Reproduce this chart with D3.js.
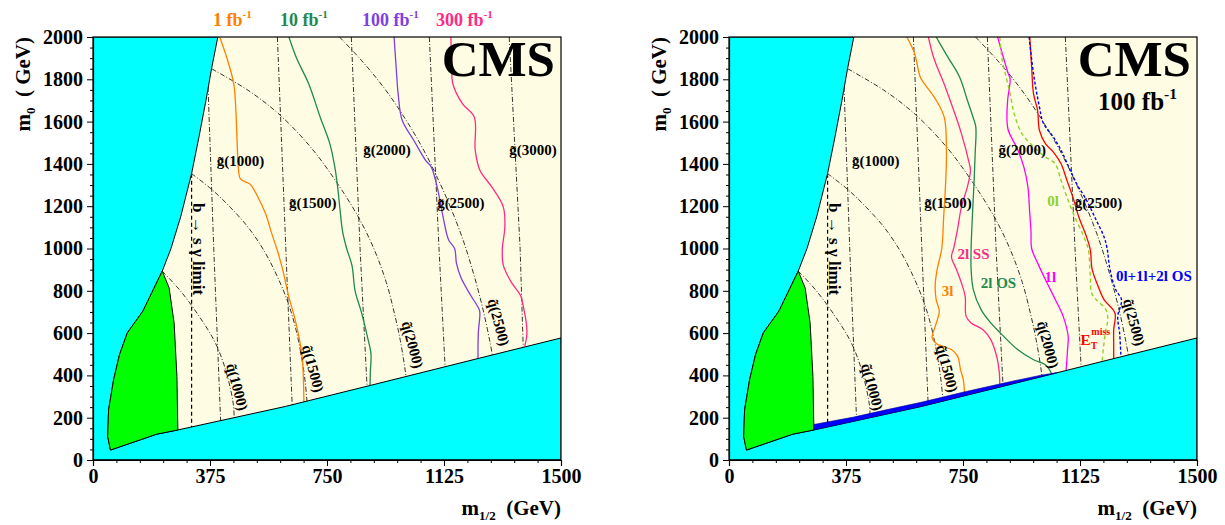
<!DOCTYPE html>
<html><head><meta charset="utf-8">
<script src="https://cdn.jsdelivr.net/npm/d3@7"></script>
<style>
body{margin:0;background:#fff}
svg{display:block}
text{font-family:"Liberation Serif","Times New Roman",serif;font-weight:bold;white-space:pre}
</style>
</head><body>
<svg id="chart" width="1225" height="525"></svg>
<script>
// ---------------- data (GeV) ----------------
const xTicks = [0, 375, 750, 1125, 1500];
const yTicks = [0, 200, 400, 600, 800, 1000, 1200, 1400, 1600, 1800, 2000];

// excluded-region boundaries
const cyanEdge   = [[222,893],[250,1000],[281,1150],[316,1354],[340,1530],[362,1700],[380,1850],[400,2000]];
const greenLeft  = [[56,47],[47,111],[50,237],[66,379],[85,498],[110,601],[160,704],[222,893]];
const greenRight = [[222,893],[244,814],[260,648],[269,395],[272,142]];
const bottomEdge = [[56,47],[204,122],[272,142],[616,253],[890,353],[1240,482],[1500,577]];
const bsgLine    = [[316,1354],[316,150]];

// iso-mass gluino contours
const gl1000 = [[363,2000],[387,1000],[410,150]];
const gl1500 = [[591,2000],[618,1000],[640,200]];
const gl2000 = [[828,2000],[856,1000],[880,300]];
const gl2500 = [[1078,2000],[1109,1000],[1130,400]];
const gl3000 = [[1334,2000],[1369,1000],[1380,480]];
const gluinoNames = ["1000","1500","2000","2500","3000"];

// iso-mass squark contours
const sq1000 = [[222,893],[280,800],[340,680],[390,560],[420,450],[440,340],[450,260],[453,180]];
const sq1500 = [[316,1354],[380,1280],[440,1195],[500,1095],[550,985],[590,870],[625,745],[650,620],[668,490],[680,370],[688,240]];
const sq2000 = [[380,1850],[500,1745],[600,1630],[700,1475],[780,1315],[850,1150],[900,1000],[940,840],[965,700],[985,565],[1000,430],[1006,360]];
const sq2500 = [[790,2000],[860,1890],[930,1765],[1000,1615],[1060,1465],[1110,1315],[1150,1180],[1185,1045],[1210,930],[1235,800],[1255,680],[1272,560],[1282,480]];
const squarkNames = ["1000","1500","2000","2500"];

// left panel: 5 sigma reach for integrated luminosities
const lumiNames = ["1 fb","10 fb","100 fb","300 fb"];
const reach1   = [[406,2000],[428,1906],[451,1780],[458,1650],[462,1500],[466,1380],[472,1330],[488,1315],[503,1305],[528,1245],[553,1165],[572,1075],[590,995],[608,900],[628,770],[645,680],[659,590],[670,495],[674,400],[676,269]];
const reach10  = [[628,2000],[653,1898],[691,1780],[728,1622],[759,1496],[775,1386],[784,1291],[792,1180],[800,1080],[813,1000],[830,920],[840,800],[860,700],[880,580],[891,500],[889,420],[888,352]];
const reach100 = [[965,2000],[972,1850],[978,1732],[991,1606],[1028,1512],[1066,1417],[1084,1386],[1103,1291],[1122,1150],[1140,1040],[1159,1000],[1165,930],[1180,860],[1210,780],[1238,711],[1240,690],[1235,600],[1234,482]];
const reach300 = [[1147,2000],[1150,1860],[1153,1780],[1184,1685],[1222,1622],[1225,1465],[1240,1370],[1278,1291],[1315,1197],[1320,1100],[1312,1000],[1315,921],[1340,842],[1371,775],[1380,720],[1390,632],[1390,585],[1384,538]];

// right panel: 100 fb-1 reach per channel
const ch3l    = [[570,2000],[595,1921],[613,1811],[626,1780],[664,1701],[690,1620],[697,1465],[694,1300],[688,1150],[682,1000],[667,900],[661,830],[664,758],[674,703],[661,632],[651,577],[665,550],[690,535],[714,521],[733,490],[742,427],[751,379],[755,310]];
const ch2lSS  = [[639,2000],[657,1898],[689,1780],[720,1654],[745,1543],[770,1402],[774,1370],[764,1291],[745,1197],[732,1087],[720,1000],[713,960],[729,901],[745,837],[757,774],[760,679],[776,648],[814,616],[839,569],[858,490],[866,420],[868,352]];
const ch2lOS  = [[664,2000],[701,1906],[739,1811],[764,1701],[782,1622],[791,1575],[789,1450],[785,1300],[780,1150],[776,1000],[776,900],[783,806],[808,711],[839,648],[870,600],[926,521],[976,474],[1014,450],[1033,411]];
const ch1l    = [[861,2000],[876,1921],[895,1827],[901,1803],[893,1700],[891,1606],[895,1559],[926,1465],[945,1386],[958,1291],[964,1165],[968,1080],[970,1000],[989,932],[1014,853],[1046,758],[1071,679],[1087,585],[1085,520],[1083,474],[1080,420]];
const ch0l    = [[868,2000],[876,1890],[890,1800],[901,1732],[914,1638],[939,1543],[977,1480],[1014,1433],[1045,1402],[1064,1323],[1083,1244],[1108,1150],[1133,1071],[1147,1020],[1152,995],[1158,869],[1162,790],[1177,758],[1208,711],[1214,664],[1208,616],[1202,553],[1196,470]];
const chMET   = [[964,2000],[970,1858],[976,1732],[989,1654],[995,1559],[1014,1496],[1039,1457],[1064,1402],[1083,1323],[1102,1244],[1121,1150],[1146,1055],[1158,995],[1164,901],[1183,822],[1202,758],[1237,695],[1233,616],[1233,537],[1233,482]];
const chComb  = [[962,2000],[976,1827],[995,1669],[1008,1591],[1039,1528],[1064,1465],[1089,1386],[1114,1307],[1146,1228],[1177,1134],[1202,1055],[1212,1000],[1221,901],[1239,806],[1258,758],[1246,679],[1252,600],[1256,498]];
const blueBandTop = [[272,168],[400,203],[500,236],[616,273],[760,324],[900,370],[1000,401],[1050,413]];
const blueBandBottom = [[1050,412],[890,353],[616,253],[272,142]];

// annotation anchors (GeV)
const gluinoLabelLeft  = [[397,1388],[628,1190],[866,1440],[1103,1190],[1334,1440]];
const gluinoLabelRight = [[394,1388],[626,1190],[864,1443],[1108,1190]];
const squarkLabelLeft  = [[462,345],[705,432],[1024,545],[1300,651]];
const squarkLabelRight = [[459,345],[699,432],[1022,545],[1298,651]];

// ---------------- drawing ----------------
const svg = d3.select("#chart");
const W = 468, TOP = 37, BOT = 460;
const serif = '"Liberation Serif","Times New Roman",serif';

function panel(x0, opts) {
  const x = d3.scaleLinear().domain([0,1500]).range([x0, x0+W]);
  const y = d3.scaleLinear().domain([0,2000]).range([BOT, TOP]);
  const g = svg.append("g");
  const line = d3.line().x(d=>x(d[0])).y(d=>y(d[1]));
  const smooth = d3.line().x(d=>x(d[0])).y(d=>y(d[1])).curve(d3.curveCatmullRom.alpha(0.5));
  const clipId = "clip" + x0;
  svg.append("clipPath").attr("id", clipId).append("rect")
    .attr("x", x(0)).attr("y", y(2000)).attr("width", W).attr("height", BOT-TOP);
  const body = g.append("g").attr("clip-path", `url(#${clipId})`);

  body.append("rect").attr("x", x(0)).attr("y", y(2000)).attr("width", W).attr("height", BOT-TOP)
    .attr("fill", "#fefde4");

  // iso-mass contours
  const gls = opts.withG3000 ? [gl1000,gl1500,gl2000,gl2500,gl3000] : [gl1000,gl1500,gl2000,gl2500];
  gls.forEach(d => body.append("path").attr("d", line(d)).attr("fill","none")
    .attr("stroke","#000").attr("stroke-width",0.8).attr("stroke-dasharray","5,2,1,2"));
  [sq1000,sq1500,sq2000,sq2500].forEach(d => body.append("path").attr("d", smooth(d)).attr("fill","none")
    .attr("stroke","#000").attr("stroke-width",0.8).attr("stroke-dasharray","5,2,1,2"));
  body.append("path").attr("d", line(bsgLine)).attr("fill","none")
    .attr("stroke","#000").attr("stroke-width",1.2).attr("stroke-dasharray","4,3");

  // reach curves
  opts.curves.forEach(c => body.append("path").attr("d", smooth(c.data)).attr("fill","none")
    .attr("stroke", c.color).attr("stroke-width", c.w || 1.3)
    .attr("stroke-dasharray", c.dash || null));

  // excluded regions
  const cyanPoly = [[0,0],[1500,0], ...bottomEdge.slice().reverse(), ...greenLeft.slice(1), ...cyanEdge.slice(1), [0,2000]];
  body.append("path").attr("d", line(cyanPoly) + "Z").attr("fill","#00ffff")
    .attr("stroke","#000").attr("stroke-width",1);
  const greenPoly = [...greenLeft, ...greenRight.slice(1), [204,122]];
  body.append("path").attr("d", line(greenPoly) + "Z").attr("fill","#00ff00")
    .attr("stroke","#000").attr("stroke-width",1);
  if (opts.band) {
    body.append("path").attr("d", line([...blueBandTop, ...blueBandBottom]) + "Z")
      .attr("fill","#0000ff").attr("stroke","#00008b").attr("stroke-width",0.6);
  }

  // frame
  g.append("rect").attr("x", x(0)).attr("y", y(2000)).attr("width", W).attr("height", BOT-TOP)
    .attr("fill","none").attr("stroke","#000").attr("stroke-width",1.2);

  // axes
  const minorX = d3.range(0, 1501, 75).filter(v => xTicks.indexOf(v) < 0);
  const minorY = d3.range(0, 2001, 50).filter(v => yTicks.indexOf(v) < 0);
  const ax = g.append("g").attr("transform", `translate(0,${BOT})`)
    .call(d3.axisBottom(x).tickValues(xTicks).tickSize(6).tickPadding(3).tickFormat(d3.format("d")));
  g.append("g").attr("transform", `translate(0,${BOT})`)
    .call(d3.axisBottom(x).tickValues(minorX).tickSize(3).tickFormat(""))
    .select(".domain").remove();
  const ay = g.append("g").attr("transform", `translate(${x(0)},0)`)
    .call(d3.axisLeft(y).tickValues(yTicks).tickSize(6).tickPadding(4).tickFormat(d3.format("d")));
  g.append("g").attr("transform", `translate(${x(0)},0)`)
    .call(d3.axisLeft(y).tickValues(minorY).tickSize(3).tickFormat(""))
    .select(".domain").remove();
  [ax, ay].forEach(a => a.selectAll("text").attr("font-family", serif).attr("font-weight","bold")
    .attr("font-size", 20).attr("fill","#000"));
  g.selectAll(".domain").attr("stroke","#000").attr("stroke-width",1.2);
  g.selectAll(".tick line").attr("stroke","#000");

  // axis titles
  const yl = g.append("text").attr("transform", `translate(${x0-63},${TOP}) rotate(-90)`)
    .attr("text-anchor","end").attr("font-size",21);
  yl.append("tspan").text("m");
  yl.append("tspan").attr("dy",5).attr("font-size",13).text("0");
  yl.append("tspan").attr("dy",-5).text("  ( GeV)");
  const xl = g.append("text").attr("x", x(1500)).attr("y", 515).attr("text-anchor","end").attr("font-size",21);
  xl.append("tspan").text("m");
  xl.append("tspan").attr("dy",5).attr("font-size",13).text("1/2");
  xl.append("tspan").attr("dy",-5).text("  (GeV)");

  // b -> s gamma label
  g.append("text").attr("transform", `translate(${x(322)},${y(1215)}) rotate(90)`)
    .attr("font-size",17).text("b \u2192 s \u03b3 limit");

  // gluino / squark labels
  opts.gLabels.forEach((p,i) => g.append("text").attr("x", x(p[0])).attr("y", y(p[1]))
    .attr("font-size",15).text("g\u0303(" + gluinoNames[i] + ")"));
  opts.qLabels.forEach((p,i) => g.append("text")
    .attr("transform", `translate(${x(p[0])},${y(p[1])}) rotate(75)`)
    .attr("text-anchor","middle").attr("dominant-baseline","central")
    .attr("font-size",15).text("q\u0303(" + squarkNames[i] + ")"));

  // CMS
  g.append("text").attr("x", x(1500)-6).attr("y", 76).attr("text-anchor","end")
    .attr("font-size",51).text("CMS");
  return {x, y, g};
}

function supText(g, xx, yy, base, sup, color, size) {
  const t = g.append("text").attr("x", xx).attr("y", yy).attr("font-size", size).attr("fill", color);
  t.append("tspan").text(base);
  t.append("tspan").attr("dy", -size*0.45).attr("font-size", size*0.62).text(sup);
  return t;
}

// left panel
const lumiColors = ["#ff8000","#1e8a4e","#7f3fdf","#ff2a85"];
const L = panel(93, {
  withG3000: true,
  curves: [reach1, reach10, reach100, reach300].map((d,i) => ({data:d, color:lumiColors[i]})),
  gLabels: gluinoLabelLeft, qLabels: squarkLabelLeft
});
const lumiX = [213, 280, 362, 436];
lumiNames.forEach((n,i) => supText(L.g, lumiX[i], 26, n, "-1", lumiColors[i], 18));

// right panel
const chColors = {c3l:"#ff8000", cSS:"#ff2a85", cOS:"#1e8a4e", c1l:"#ff00ff", c0l:"#8fd12a", cMET:"#ff0000", cComb:"#0000ff"};
const R = panel(729, {
  withG3000: false, band: true,
  curves: [
    {data:ch3l, color:chColors.c3l},
    {data:ch2lSS, color:chColors.cSS},
    {data:ch2lOS, color:chColors.cOS},
    {data:ch1l, color:chColors.c1l},
    {data:ch0l, color:chColors.c0l, dash:"4,3", w:1.4},
    {data:chMET, color:chColors.cMET},
    {data:chComb, color:chColors.cComb, dash:"3,2", w:1.4}
  ],
  gLabels: gluinoLabelRight, qLabels: squarkLabelRight
});
supText(R.g, R.x(1500)-20, 110, "100 fb", "-1", "#000", 25).attr("text-anchor","end");

const chLabel = (t, p, c) => R.g.append("text").attr("x", R.x(p[0])).attr("y", R.y(p[1]))
  .attr("font-size",15).attr("fill",c).text(t);
chLabel("3l", [682,776], chColors.c3l);
chLabel("2l SS", [732,948], chColors.cSS);
chLabel("2l OS", [807,812], chColors.cOS);
chLabel("1l", [1011,842], chColors.c1l);
chLabel("0l", [1020,1200], chColors.c0l);
chLabel("0l+1l+2l OS", [1240,848], chColors.cComb);
const et = R.g.append("text").attr("x", R.x(1127)).attr("y", R.y(545)).attr("font-size",15).attr("fill", chColors.cMET);
et.append("tspan").text("E");
et.append("tspan").attr("dy",4).attr("font-size",10).text("T");
et.append("tspan").attr("dx",-6).attr("dy",-14).attr("font-size",10).text("miss");
</script>
</body></html>
